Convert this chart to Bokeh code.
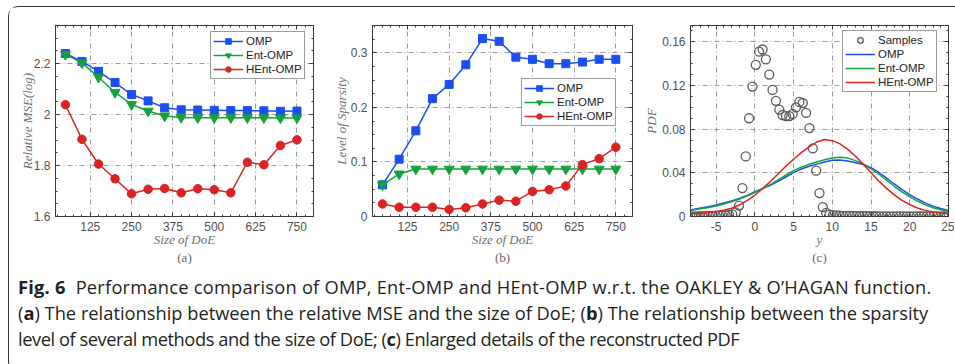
from bokeh.plotting import figure
from bokeh.models import FixedTicker, LinearAxis, Range1d, Div, CustomJSTickFormatter
from bokeh.layouts import row, column
from bokeh.embed import file_html
from bokeh.resources import INLINE
import numpy as np

# ---------------- data ----------------
doe_sizes = [50, 100, 150, 200, 250, 300, 350, 400, 450, 500, 550, 600, 650, 700, 750]

mse_omp = [2.240, 2.209, 2.170, 2.126, 2.079, 2.054, 2.027, 2.019, 2.018, 2.017, 2.016, 2.016, 2.015, 2.013, 2.014]
mse_ent = [2.237, 2.203, 2.147, 2.087, 2.040, 2.014, 1.995, 1.989, 1.988, 1.988, 1.988, 1.988, 1.988, 1.987, 1.987]
mse_hent = [2.039, 1.903, 1.806, 1.748, 1.689, 1.707, 1.710, 1.693, 1.709, 1.705, 1.693, 1.813, 1.803, 1.879, 1.901]

sp_omp = [0.058, 0.105, 0.157, 0.216, 0.242, 0.278, 0.326, 0.321, 0.292, 0.288, 0.280, 0.280, 0.283, 0.288, 0.288]
sp_ent = [0.058, 0.078, 0.087, 0.087, 0.087, 0.087, 0.087, 0.087, 0.087, 0.087, 0.087, 0.087, 0.087, 0.087, 0.087]
sp_hent = [0.023, 0.017, 0.017, 0.017, 0.013, 0.016, 0.023, 0.030, 0.028, 0.046, 0.049, 0.056, 0.095, 0.106, 0.127]

sample_y = [-8.09, -7.66, -7.22, -6.79, -6.36, -5.92, -5.49, -5.06, -4.63, -4.20,
            -3.76, -3.33, -2.90, -2.47, -2.03, -1.60, -1.17, -0.74, -0.30, 0.13,
            0.56, 1.00, 1.43, 1.86, 2.29, 2.73, 3.16, 3.59, 4.02, 4.46,
            4.89, 5.32, 5.75, 6.19, 6.62, 7.05, 7.48, 7.92, 8.35, 8.78,
            9.21, 9.65, 10.08, 10.51, 10.94, 11.38, 11.81, 12.24, 12.67, 13.11,
            13.54, 13.97, 14.40, 14.84, 15.27, 15.70, 16.13, 16.57, 17.00, 17.43,
            17.86, 18.30, 18.73, 19.16, 19.59, 20.03, 20.46, 20.89, 21.32, 21.76,
            22.19, 22.62, 23.05, 23.49, 23.92, 24.35, 24.78]
sample_pdf = [0.0002, 0.0002, 0.0003, 0.0003, 0.0004, 0.0005, 0.0006, 0.0007, 0.0008, 0.0009,
              0.0011, 0.0014, 0.0020, 0.0037, 0.0100, 0.0260, 0.0550, 0.0900, 0.1190, 0.1390,
              0.1510, 0.1530, 0.1440, 0.1300, 0.1160, 0.1060, 0.0980, 0.0930, 0.0920, 0.0920,
              0.0940, 0.1000, 0.1050, 0.1040, 0.0950, 0.0810, 0.0625, 0.0420, 0.0215, 0.0086,
              0.0034, 0.0018, 0.0012, 0.0009, 0.0007, 0.0006, 0.0006, 0.0005, 0.0005, 0.0004,
              0.0004, 0.0004, 0.0003, 0.0003, 0.0003, 0.0003, 0.0002, 0.0002, 0.0002, 0.0002,
              0.0002, 0.0002, 0.0001, 0.0001, 0.0001, 0.0001, 0.0001, 0.0001, 0.0001, 0.0001,
              0.0001, 0.0001, 0.0001, 0.0001, 0.0001, 0.0001, 0.0001]

curve_y = [-8.3, -7, -6, -5, -4, -3, -2, -1, 0, 1, 2, 3, 4, 5, 6, 7, 8, 9, 10, 11, 12,
           13, 14, 15, 16, 17, 18, 19, 20, 21, 22, 23, 24, 25]
pdf_omp = [0.0060, 0.0077, 0.0090, 0.0105, 0.0123, 0.0143, 0.0165, 0.0192, 0.0228, 0.0255,
           0.0285, 0.0322, 0.0362, 0.0402, 0.0435, 0.0460, 0.0480, 0.0500, 0.0515, 0.0518,
           0.0508, 0.0493, 0.0476, 0.0448, 0.0405, 0.0352, 0.0298, 0.0247, 0.0200, 0.0160,
           0.0125, 0.0095, 0.0073, 0.0055]
pdf_ent = [0.0055, 0.0070, 0.0083, 0.0097, 0.0115, 0.0135, 0.0160, 0.0188, 0.0220, 0.0255,
           0.0292, 0.0335, 0.0378, 0.0420, 0.0452, 0.0478, 0.0500, 0.0520, 0.0535, 0.0542,
           0.0535, 0.0512, 0.0480, 0.0437, 0.0387, 0.0332, 0.0277, 0.0226, 0.0181, 0.0141,
           0.0108, 0.0081, 0.0061, 0.0045]
pdf_hent = [0.0025, 0.0030, 0.0037, 0.0045, 0.0057, 0.0075, 0.0105, 0.0145, 0.0195, 0.0255,
            0.0320, 0.0390, 0.0460, 0.0525, 0.0585, 0.0638, 0.0682, 0.0705, 0.0695, 0.0665,
            0.0615, 0.0552, 0.0478, 0.0400, 0.0325, 0.0258, 0.0198, 0.0148, 0.0108, 0.0078,
            0.0056, 0.0041, 0.0031, 0.0025]

doe_ticks = [125, 250, 375, 500, 625, 750]

BLUE = "#1c4ff2"
GREEN = "#15a23d"
RED = "#dc2323"
FRAME = "#3a3a3a"
TICKLBL = "#505050"
AXLBL = "#707070"
SANS = "Liberation Sans"
SERIF = "Liberation Serif"

fmt = CustomJSTickFormatter(code="return String(tick)")
blank = CustomJSTickFormatter(code="return ''")


def style(p, xt, yt, xlabel, ylabel, ylab_standoff, sub):
    xb = p.below[0]
    yl = p.left[0]
    xb.ticker = xt
    yl.ticker = yt
    p.xgrid.ticker = xt
    p.ygrid.ticker = yt
    top = LinearAxis(ticker=xt, formatter=blank, major_label_standoff=0)
    right = LinearAxis(ticker=yt, formatter=blank, major_label_standoff=0)
    p.add_layout(top, "above")
    p.add_layout(right, "right")
    for ax in (xb, yl, top, right):
        ax.major_tick_in = 4
        ax.major_tick_out = 0
        ax.minor_tick_in = 2
        ax.minor_tick_out = 0
        ax.axis_line_color = FRAME
        ax.major_tick_line_color = FRAME
        ax.minor_tick_line_color = FRAME
        ax.axis_line_width = 1
    for ax in (xb, yl):
        ax.formatter = fmt
        ax.major_label_text_font = SANS
        ax.major_label_text_font_size = "12px"
        ax.major_label_text_color = TICKLBL
        ax.major_label_standoff = 5
        ax.axis_label_text_font = SERIF
        ax.axis_label_text_font_style = "italic"
        ax.axis_label_text_font_size = "13px"
        ax.axis_label_text_color = AXLBL
    xb.axis_label = xlabel
    xb.axis_label_standoff = -2
    yl.axis_label = ylabel
    yl.axis_label_standoff = ylab_standoff
    for g in (p.xgrid, p.ygrid):
        g.grid_line_color = "#9a9a9a"
        g.grid_line_dash = "5 3 1 3"
        g.grid_line_width = 1
    p.outline_line_color = FRAME
    p.title.text = sub
    p.title.align = "center"
    p.title.text_font = SERIF
    p.title.text_font_style = "normal"
    p.title.text_font_size = "13px"
    p.title.text_color = "#666666"
    p.title.standoff = -3
    p.title.offset = 0


def style_legend(p, loc):
    lg = p.legend[0]
    lg.location = loc
    lg.margin = 0
    lg.padding = 2
    lg.spacing = 0
    lg.glyph_width = 30
    lg.glyph_height = 14
    lg.label_height = 14
    lg.label_standoff = 3
    lg.label_text_font = SANS
    lg.label_text_font_size = "11.5px"
    lg.label_text_color = "#222222"
    lg.border_line_color = FRAME
    lg.border_line_width = 1
    lg.background_fill_alpha = 1


FIG_H = 257
common = dict(output_backend="svg", toolbar_location=None, title_location="below",
              background_fill_color="white", border_fill_color="white",
              height=FIG_H, min_border_top=18, min_border_bottom=48)

# ---------------- (a) ----------------
pa = figure(width=311, min_border_left=46, min_border_right=7,
            x_range=Range1d(20, 800), y_range=Range1d(1.6, 2.35), **common)
xt_a = FixedTicker(ticks=doe_ticks, minor_ticks=list(np.arange(0, 826, 25)))
yt_a = FixedTicker(ticks=[1.6, 1.8, 2.0, 2.2], minor_ticks=list(np.round(np.arange(1.6, 2.36, 0.05), 2)))
style(pa, xt_a, yt_a, "Size of DoE", "Relative MSE(log)", -4, "(a)")
pa.line(doe_sizes, mse_omp, color=BLUE, line_width=1.5, legend_label="OMP")
pa.scatter(doe_sizes, mse_omp, marker="square", size=8, color=BLUE, legend_label="OMP")
pa.line(doe_sizes, mse_ent, color=GREEN, line_width=1.5, legend_label="Ent-OMP")
pa.scatter(doe_sizes, mse_ent, marker="inverted_triangle", size=10, color=GREEN, legend_label="Ent-OMP")
pa.line(doe_sizes, mse_hent, color=RED, line_width=1.5, legend_label="HEnt-OMP")
pa.scatter(doe_sizes, mse_hent, marker="circle", size=8.5, color=RED, legend_label="HEnt-OMP")
style_legend(pa, (155, 137))

# ---------------- (b) ----------------
pb = figure(width=320, min_border_left=52, min_border_right=8,
            x_range=Range1d(20, 800), y_range=Range1d(0, 0.35), **common)
xt_b = FixedTicker(ticks=doe_ticks, minor_ticks=list(np.arange(0, 826, 25)))
yt_b = FixedTicker(ticks=[0, 0.1, 0.2, 0.3], minor_ticks=list(np.round(np.arange(0, 0.351, 0.025), 3)))
style(pb, xt_b, yt_b, "Size of DoE", "Level of Sparsity", -1, "(b)")
pb.line(doe_sizes, sp_omp, color=BLUE, line_width=1.5, legend_label="OMP")
pb.scatter(doe_sizes, sp_omp, marker="square", size=8, color=BLUE, legend_label="OMP")
pb.line(doe_sizes, sp_ent, color=GREEN, line_width=1.5, legend_label="Ent-OMP")
pb.scatter(doe_sizes, sp_ent, marker="inverted_triangle", size=10, color=GREEN, legend_label="Ent-OMP")
pb.line(doe_sizes, sp_hent, color=RED, line_width=1.5, legend_label="HEnt-OMP")
pb.scatter(doe_sizes, sp_hent, marker="circle", size=8.5, color=RED, legend_label="HEnt-OMP")
style_legend(pb, (149, 90))

# ---------------- (c) ----------------
pc = figure(width=314, min_border_left=50, min_border_right=6,
            x_range=Range1d(-8.3, 25), y_range=Range1d(0, 0.175), **common)
xt_c = FixedTicker(ticks=[-5, 0, 5, 10, 15, 20, 25], minor_ticks=list(range(-9, 26)))
yt_c = FixedTicker(ticks=[0, 0.04, 0.08, 0.12, 0.16], minor_ticks=list(np.round(np.arange(0, 0.176, 0.01), 2)))
style(pc, xt_c, yt_c, "y", "PDF", 0, "(c)")
pc.scatter(sample_y, sample_pdf, marker="circle", size=9, fill_color=None,
           line_color="#5a5a5a", line_width=1.3, legend_label="Samples")
pc.line(curve_y, pdf_omp, color=BLUE, line_width=1.5, legend_label="OMP")
pc.line(curve_y, pdf_ent, color=GREEN, line_width=1.5, legend_label="Ent-OMP")
pc.line(curve_y, pdf_hent, color=RED, line_width=1.5, legend_label="HEnt-OMP")
style_legend(pc, (152, 124))

caption_html = (
    "<div style=\"font-family:'Open Sans',sans-serif;font-size:18.3px;line-height:26px;"
    "color:#231f20;padding:5px 0 0 4px;white-space:nowrap;\">"
    "<span style='letter-spacing:0.22px'><b>Fig. 6</b>&nbsp; Performance comparison of OMP, "
    "Ent-OMP and HEnt-OMP w.r.t. the OAKLEY &amp; O\u2019HAGAN function.</span><br>"
    "<span>(<b>a</b>) The relationship between the relative MSE and the size of DoE; (<b>b</b>) "
    "The relationship between the sparsity</span><br>"
    "<span style='letter-spacing:-0.45px'>level of several methods and the size of DoE; "
    "(<b>c</b>) Enlarged details of the reconstructed PDF</span></div>"
)
cap = Div(text=caption_html, width=945, height=96)

layout = column(row(pa, pb, pc), cap, margin=(6, 0, 0, 8),
                styles={"border-top": "1px solid #333", "border-left": "1px solid #333",
                        "border-bottom": "1px solid #333",
                        "border-top-left-radius": "10px", "border-bottom-left-radius": "10px"})

open("out.html", "w").write(file_html(layout, INLINE))
